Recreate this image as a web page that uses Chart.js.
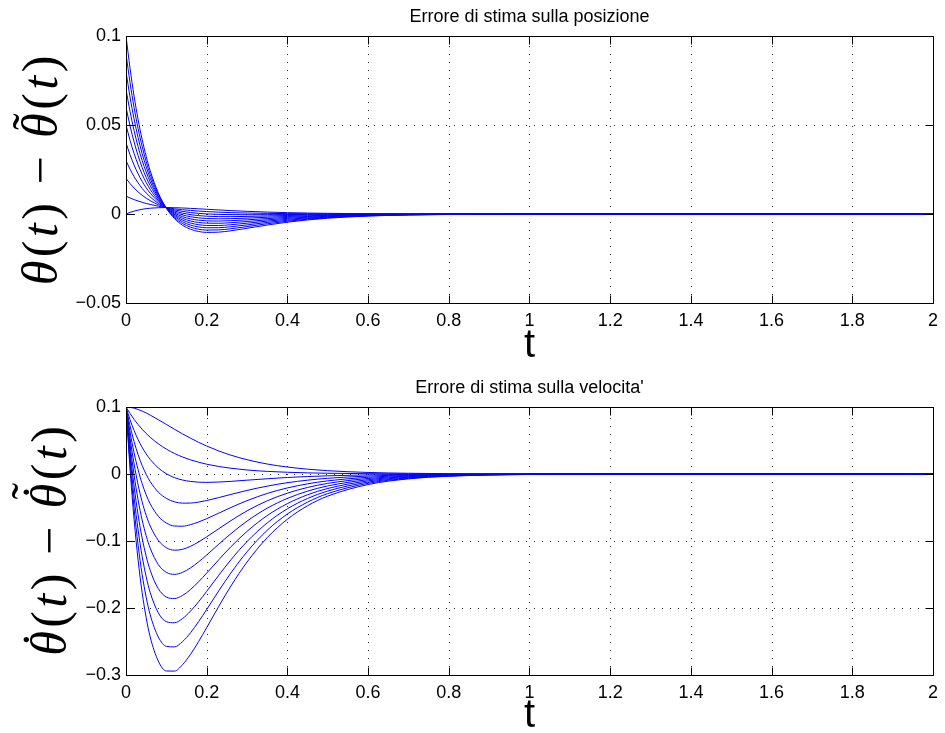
<!DOCTYPE html>
<html>
<head>
<meta charset="utf-8">
<script src="https://cdn.jsdelivr.net/npm/chart.js@4.4.1/dist/chart.umd.min.js"></script>
<style>
html,body{margin:0;padding:0;background:#fff;}
#wrap{position:relative;width:945px;height:733px;overflow:hidden;}
canvas{position:absolute;left:0;display:block;}
#c1{top:0;}
#c2{top:366px;}
</style>
</head>
<body>
<div id="wrap">
<canvas id="c1" width="945" height="366"></canvas>
<canvas id="c2" width="945" height="367"></canvas>
</div>
<script>
// ---------- data ----------
const timeS = [0, 0.01, 0.02, 0.03, 0.04, 0.05, 0.06, 0.08, 0.10, 0.12, 0.14, 0.16, 0.18, 0.20, 0.23, 0.26, 0.30, 0.35, 0.40, 0.45, 0.50, 0.60, 0.70, 0.80, 1.0, 1.5, 2.0];

// position estimation error, one curve per initial error 0 ... 0.1
const posK0  = [0, 0.0009, 0.0016, 0.0022, 0.00265, 0.0030, 0.00325, 0.00353, 0.00361, 0.00354, 0.00338, 0.00316, 0.00292, 0.00266, 0.00227, 0.00191, 0.0015, 0.00108, 0.00076, 0.00054, 0.00037, 0.00018, 0.00008, 0.00004, 0.00001, 0, 0];
const posK1  = [0.01, 0.0090, 0.0081, 0.0073, 0.0066, 0.0059, 0.0054, 0.0044, 0.00357, 0.00293, 0.00241, 0.00199, 0.00164, 0.00136, 0.00103, 0.00078, 0.00054, 0.00035, 0.00023, 0.00015, 0.0001, 0.00004, 0.00002, 0.00001, 0, 0, 0];
const posK2  = [0.02, 0.0171, 0.0146, 0.0124, 0.0105, 0.0089, 0.0075, 0.0052, 0.00354, 0.00232, 0.00144, 0.00081, 0.00036, 0.00006, -0.00022, -0.00035, -0.00041, -0.00038, -0.00031, -0.00024, -0.00017, -0.00009, -0.00004, -0.00002, 0, 0, 0];
const posK3  = [0.03, 0.0252, 0.0210, 0.0175, 0.0144, 0.0118, 0.0096, 0.0060, 0.00351, 0.00171, 0.00047, -0.00037, -0.00091, -0.00124, -0.00147, -0.00149, -0.00136, -0.0011, -0.00084, -0.00062, -0.00045, -0.00022, -0.00011, -0.00005, -0.00001, 0, 0];
const posK4  = [0.04, 0.0333, 0.0275, 0.0226, 0.0183, 0.0147, 0.0117, 0.0069, 0.00347, 0.00111, -0.0005, -0.00154, -0.00219, -0.00254, -0.00271, -0.00262, -0.00231, -0.00183, -0.00138, -0.00101, -0.00072, -0.00036, -0.00017, -0.00008, -0.00002, 0, 0];
const posK5  = [0.05, 0.0414, 0.0340, 0.0277, 0.0223, 0.0177, 0.0138, 0.0077, 0.00344, 0.0005, -0.00147, -0.00272, -0.00346, -0.00384, -0.00396, -0.00376, -0.00327, -0.00256, -0.00191, -0.00139, -0.001, -0.00049, -0.00023, -0.00011, -0.00002, 0, 0];
const posK6  = [0.06, 0.0495, 0.0405, 0.0328, 0.0262, 0.0206, 0.0159, 0.0086, 0.00341, -0.00011, -0.00243, -0.0039, -0.00474, -0.00514, -0.0052, -0.00489, -0.00422, -0.00329, -0.00245, -0.00178, -0.00127, -0.00062, -0.0003, -0.00014, -0.00003, 0, 0];
const posK7  = [0.07, 0.0576, 0.0469, 0.0378, 0.0301, 0.0236, 0.0180, 0.0094, 0.00337, -0.00072, -0.0034, -0.00507, -0.00601, -0.00644, -0.00645, -0.00603, -0.00517, -0.00401, -0.00299, -0.00217, -0.00154, -0.00075, -0.00036, -0.00017, -0.00004, 0, 0];
const posK8  = [0.08, 0.0657, 0.0534, 0.0429, 0.0340, 0.0265, 0.0201, 0.0102, 0.00334, -0.00133, -0.00437, -0.00625, -0.00729, -0.00774, -0.0077, -0.00716, -0.00612, -0.00474, -0.00352, -0.00255, -0.00181, -0.00089, -0.00042, -0.0002, -0.00004, 0, 0];
const posK9  = [0.09, 0.0738, 0.0599, 0.0480, 0.0380, 0.0294, 0.0222, 0.0111, 0.00331, -0.00193, -0.00534, -0.00742, -0.00856, -0.00904, -0.00894, -0.0083, -0.00707, -0.00547, -0.00406, -0.00294, -0.00209, -0.00102, -0.00049, -0.00023, -0.00005, 0, 0];
const posK10 = [0.1, 0.0819, 0.0663, 0.0531, 0.0419, 0.0324, 0.0243, 0.0119, 0.00327, -0.00254, -0.00631, -0.0086, -0.00984, -0.01034, -0.01019, -0.00943, -0.00803, -0.0062, -0.00459, -0.00332, -0.00236, -0.00115, -0.00055, -0.00026, -0.00006, 0, 0];

// velocity estimation error, same eleven runs
const velK0  = [0.1, 0.0995, 0.0983, 0.0963, 0.0939, 0.0911, 0.0879, 0.0811, 0.0740, 0.0668, 0.0599, 0.0534, 0.0473, 0.0417, 0.0344, 0.0281, 0.0213, 0.0149, 0.0104, 0.0072, 0.0049, 0.0023, 0.0011, 0.0005, 0.0001, 0, 0];
const velK1  = [0.1, 0.0903, 0.0816, 0.0738, 0.0668, 0.0605, 0.0548, 0.0451, 0.0372, 0.0307, 0.0254, 0.0211, 0.0176, 0.0146, 0.0112, 0.0086, 0.0060, 0.0039, 0.0026, 0.0017, 0.0011, 0.0005, 0.0002, 0.0001, 0, 0, 0];
const velK2  = [0.1, 0.0811, 0.0650, 0.0514, 0.0398, 0.0300, 0.0217, 0.0091, 0.0004, -0.0054, -0.0090, -0.0111, -0.0122, -0.0125, -0.0120, -0.0110, -0.0092, -0.0071, -0.0052, -0.0038, -0.0027, -0.0013, -0.0006, -0.0003, -0.0001, 0, 0];
const velK3  = [0.1, 0.0719, 0.0484, 0.0289, 0.0127, -0.0006, -0.0114, -0.0270, -0.0364, -0.0415, -0.0435, -0.0434, -0.0419, -0.0396, -0.0352, -0.0305, -0.0245, -0.0181, -0.0130, -0.0092, -0.0064, -0.0031, -0.0015, -0.0007, -0.0002, 0, 0];
const velK4  = [0.1, 0.0627, 0.0318, 0.0064, -0.0144, -0.0311, -0.0445, -0.0630, -0.0732, -0.0776, -0.0779, -0.0756, -0.0716, -0.0667, -0.0584, -0.0500, -0.0398, -0.0290, -0.0208, -0.0147, -0.0102, -0.0049, -0.0023, -0.0011, -0.0002, 0, 0];
const velK5  = [0.1, 0.0535, 0.0152, -0.0161, -0.0415, -0.0617, -0.0776, -0.0990, -0.1100, -0.1137, -0.1124, -0.1079, -0.1014, -0.0938, -0.0816, -0.0696, -0.0550, -0.0400, -0.0286, -0.0201, -0.0140, -0.0067, -0.0031, -0.0015, -0.0003, 0, 0];
const velK6  = [0.1, 0.0443, -0.0014, -0.0386, -0.0685, -0.0922, -0.1107, -0.1351, -0.1468, -0.1498, -0.1468, -0.1401, -0.1311, -0.1209, -0.1047, -0.0891, -0.0703, -0.0510, -0.0364, -0.0256, -0.0178, -0.0085, -0.0040, -0.0019, -0.0004, 0, 0];
const velK7  = [0.1, 0.0351, -0.0180, -0.0611, -0.0956, -0.1228, -0.1438, -0.1711, -0.1836, -0.1859, -0.1813, -0.1724, -0.1608, -0.1480, -0.1279, -0.1086, -0.0856, -0.0620, -0.0442, -0.0310, -0.0216, -0.0103, -0.0048, -0.0022, -0.0005, 0, 0];
const velK8  = [0.1, 0.0259, -0.0346, -0.0836, -0.1227, -0.1534, -0.1769, -0.2071, -0.2204, -0.2220, -0.2158, -0.2046, -0.1906, -0.1751, -0.1511, -0.1281, -0.1008, -0.0730, -0.0519, -0.0365, -0.0254, -0.0121, -0.0057, -0.0026, -0.0006, 0, 0];
const velK9  = [0.1, 0.0167, -0.0512, -0.1061, -0.1497, -0.1839, -0.2101, -0.2432, -0.2572, -0.2581, -0.2502, -0.2369, -0.2203, -0.2022, -0.1743, -0.1477, -0.1161, -0.0840, -0.0597, -0.0420, -0.0292, -0.0139, -0.0065, -0.0030, -0.0007, 0, 0];
const velK10 = [0.1, 0.0075, -0.0678, -0.1285, -0.1768, -0.2145, -0.2432, -0.2792, -0.2940, -0.2942, -0.2847, -0.2691, -0.2500, -0.2293, -0.1975, -0.1672, -0.1314, -0.0950, -0.0675, -0.0474, -0.0330, -0.0157, -0.0073, -0.0034, -0.0007, 0, 0];

// ticks and labels
const xTickValues = [0, 0.2, 0.4, 0.6, 0.8, 1, 1.2, 1.4, 1.6, 1.8, 2];
const xTickLabels = ['0', '0.2', '0.4', '0.6', '0.8', '1', '1.2', '1.4', '1.6', '1.8', '2'];
const posTickValues = [-0.05, 0, 0.05, 0.1];
const posTickLabels = ['\u22120.05', '0', '0.05', '0.1'];
const velTickValues = [-0.3, -0.2, -0.1, 0, 0.1];
const velTickLabels = ['\u22120.3', '\u22120.2', '\u22120.1', '0', '0.1'];

const posTitle = 'Errore di stima sulla posizione';
const velTitle = "Errore di stima sulla velocita'";
const xAxisTitle = 't';

// ---------- drawing helpers ----------
const SANS = '"Liberation Sans", Arial, Helvetica, sans-serif';
const SERIF = '"Liberation Serif", "DejaVu Serif", serif';

function drawMathLabel(ctx, cx, cy, parts, size, track) {
  ctx.save();
  ctx.translate(cx, cy);
  ctx.rotate(-Math.PI / 2);
  ctx.fillStyle = '#000';
  ctx.textBaseline = 'alphabetic';
  ctx.textAlign = 'left';
  const fonts = parts.map(p => (p.it ? 'italic ' : '') + size + 'px ' + SERIF);
  const widths = parts.map((p, i) => {
    ctx.font = fonts[i];
    return ctx.measureText(p.s).width + ((p.pre || 0) + (p.post || 0) + track) * size;
  });
  const total = widths.reduce((a, b) => a + b, 0) - track * size;
  let x = -total / 2;
  parts.forEach((p, i) => {
    ctx.font = fonts[i];
    const w = ctx.measureText(p.s).width;
    const x0 = x + (p.pre || 0) * size;
    ctx.fillText(p.s, x0, 0);
    if (p.acc) {
      p.acc.forEach(a => {
        ctx.font = size + 'px ' + SERIF;
        const aw = ctx.measureText(a.c).width;
        ctx.fillText(a.c, x0 + w / 2 - aw / 2 + a.dx * size, -a.dy * size);
      });
    }
    x += widths[i];
  });
  ctx.restore();
}

const posYLabel = [
  {s: '\u03B8', it: true}, {s: '('}, {s: 't', it: true}, {s: ')'},
  {s: '\u2212', pre: 0.3, post: 0.3},
  {s: '\u03B8', it: true, acc: [{c: '\u02DC', dx: 0.08, dy: 0.2}]}, {s: '('}, {s: 't', it: true}, {s: ')'}
];
const velYLabel = [
  {s: '\u03B8', it: true, acc: [{c: '\u02D9', dx: 0.08, dy: 0.18}]}, {s: '('}, {s: 't', it: true}, {s: ')'},
  {s: '\u2212', pre: 0.3, post: 0.3},
  {s: '\u03B8', it: true, acc: [{c: '\u02D9', dx: 0.08, dy: 0.18}, {c: '\u02DC', dx: 0.1, dy: 0.4}]}, {s: '('}, {s: 't', it: true}, {s: ')'}
];

const matlabAxes = {
  id: 'matlabAxes',
  beforeDatasetsDraw(chart) {
    const {ctx, chartArea: a, scales: {x, y}} = chart;
    ctx.save();
    ctx.strokeStyle = 'rgba(0,0,0,0.85)';
    ctx.lineWidth = 1;
    ctx.setLineDash([1, 7]);
    x.ticks.forEach(t => {
      if (t.value <= x.min || t.value >= x.max) return;
      const px = Math.round(x.getPixelForValue(t.value)) + 0.5;
      ctx.beginPath(); ctx.moveTo(px, a.bottom); ctx.lineTo(px, a.top); ctx.stroke();
    });
    y.ticks.forEach(t => {
      if (t.value <= y.min || t.value >= y.max) return;
      const py = Math.round(y.getPixelForValue(t.value)) + 0.5;
      ctx.beginPath(); ctx.moveTo(a.left, py); ctx.lineTo(a.right, py); ctx.stroke();
    });
    ctx.restore();
  },
  afterDatasetsDraw(chart, args, opts) {
    const {ctx, chartArea: a, scales: {x, y}} = chart;
    const L = Math.round(a.left) + 0.5, R = Math.round(a.right) + 0.5;
    const T = Math.round(a.top) + 0.5, B = Math.round(a.bottom) + 0.5;
    const tl = 8;
    ctx.save();
    ctx.strokeStyle = '#000';
    ctx.lineWidth = 1;
    ctx.setLineDash([]);
    ctx.strokeRect(L, T, R - L, B - T);
    ctx.beginPath();
    x.ticks.forEach(t => {
      const px = Math.round(x.getPixelForValue(t.value)) + 0.5;
      ctx.moveTo(px, B); ctx.lineTo(px, B - tl);
      ctx.moveTo(px, T); ctx.lineTo(px, T + tl);
    });
    y.ticks.forEach(t => {
      const py = Math.round(y.getPixelForValue(t.value)) + 0.5;
      ctx.moveTo(L, py); ctx.lineTo(L + tl, py);
      ctx.moveTo(R, py); ctx.lineTo(R - tl, py);
    });
    ctx.stroke();
    // title
    ctx.fillStyle = '#000';
    ctx.font = '18px ' + SANS;
    ctx.textAlign = 'center';
    ctx.textBaseline = 'middle';
    ctx.fillText(opts.title, (a.left + a.right) / 2, opts.titleY);
    // y label
    drawMathLabel(ctx, opts.labelX, (a.top + a.bottom) / 2 + opts.labelDy, opts.label, opts.labelSize, 0.07);
    ctx.restore();
  }
};

function makePanel(canvasId, series, yMin, yMax, yTickValues, yTickLabels, geom) {
  const datasets = series.map(ys => ({
    data: timeS.map((t, j) => ({x: t, y: ys[j]})),
    borderColor: '#0000ff',
    borderWidth: 1,
    pointRadius: 0,
    fill: false,
    cubicInterpolationMode: 'monotone'
  }));
  return new Chart(document.getElementById(canvasId), {
    type: 'line',
    data: {datasets},
    options: {
      responsive: false,
      animation: false,
      events: [],
      layout: {padding: {left: 0, right: 9, top: geom.areaTop, bottom: 0}},
      plugins: {
        legend: {display: false},
        tooltip: {enabled: false},
        title: {display: false},
        matlabAxes: {title: geom.title, titleY: geom.titleY, label: geom.label, labelX: geom.labelX, labelDy: geom.labelDy, labelSize: geom.labelSize}
      },
      scales: {
        x: {
          type: 'linear', min: 0, max: 2, position: 'bottom',
          afterBuildTicks: s => { s.ticks = xTickValues.map(v => ({value: v})); },
          afterFit: s => { s.height = geom.xAxisH; },
          grid: {display: false, drawTicks: false},
          border: {display: false},
          ticks: {
            color: '#000', padding: geom.xTickPad, maxRotation: 0, autoSkip: false,
            font: {family: SANS, size: 18},
            callback: (v, i) => xTickLabels[i]
          },
          title: {
            display: true, text: xAxisTitle, color: '#000',
            font: {family: SANS, size: 40, lineHeight: 0.8},
            padding: {top: 0, bottom: geom.xTitlePadB}
          }
        },
        y: {
          type: 'linear', min: yMin, max: yMax,
          afterBuildTicks: s => { s.ticks = yTickValues.map(v => ({value: v})); },
          afterFit: s => { s.width = 126; },
          grid: {display: false, drawTicks: false},
          border: {display: false},
          ticks: {
            color: '#000', padding: 5,
            font: {family: SANS, size: 18},
            callback: (v, i) => yTickLabels[i]
          }
        }
      }
    },
    plugins: [matlabAxes]
  });
}

makePanel('c1', [posK0, posK1, posK2, posK3, posK4, posK5, posK6, posK7, posK8, posK9, posK10],
  -0.05, 0.1, posTickValues, posTickLabels,
  {areaTop: 36, xAxisH: 63, xTickPad: 7, xTitlePadB: 4, title: posTitle, titleY: 17,
   label: posYLabel, labelX: 57, labelDy: 1, labelSize: 50});

makePanel('c2', [velK0, velK1, velK2, velK3, velK4, velK5, velK6, velK7, velK8, velK9, velK10],
  -0.3, 0.1, velTickValues, velTickLabels,
  {areaTop: 41, xAxisH: 58, xTickPad: 7, xTitlePadB: 1, title: velTitle, titleY: 22,
   label: velYLabel, labelX: 66, labelDy: 0, labelSize: 50});
</script>
</body>
</html>
